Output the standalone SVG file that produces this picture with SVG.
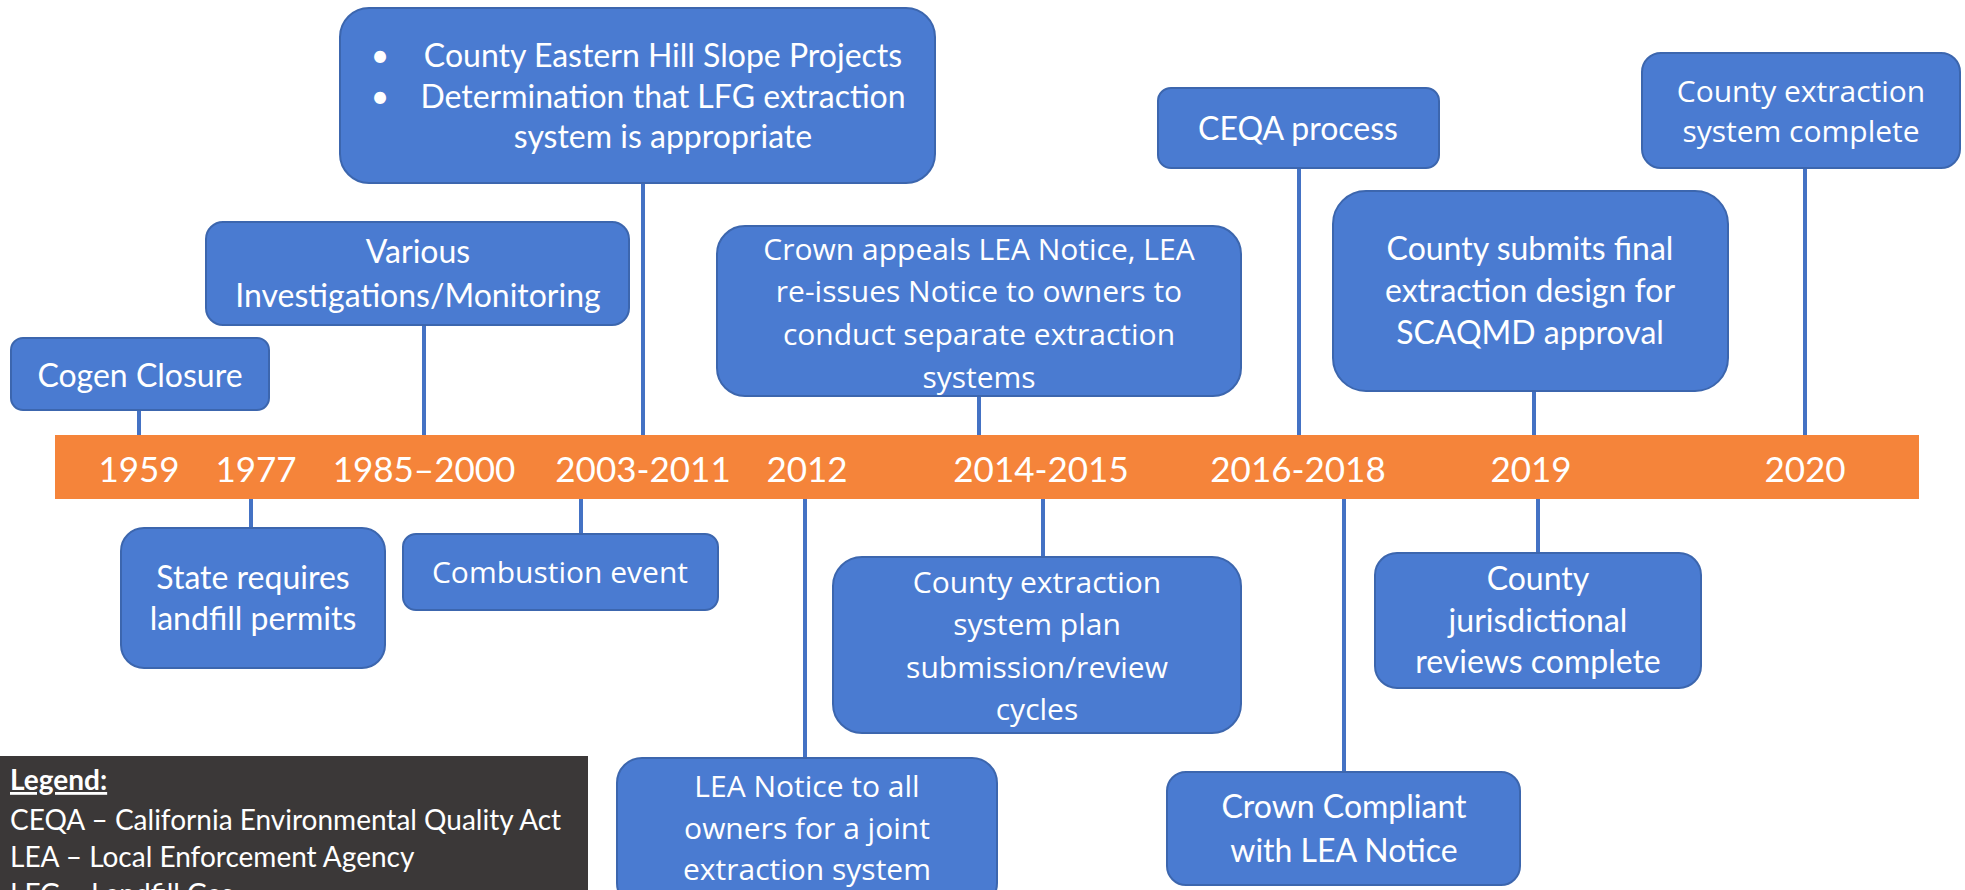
<svg xmlns="http://www.w3.org/2000/svg" width="1965" height="890" viewBox="0 0 1965 890">
<style>
.box{fill:#4A7BD1;stroke:#3C66AE;stroke-width:2}
.c{fill:#fff;font-family:Lato,"Liberation Sans",sans-serif;font-size:32px;text-anchor:middle}
.s{fill:#fff;font-family:"Open Sans","Noto Sans",sans-serif;font-size:30px;text-anchor:middle}
.yr{fill:#fff;font-family:Lato,"Liberation Sans",sans-serif;font-size:35px;text-anchor:middle}
.lg{fill:#fff;font-family:Lato,"Liberation Sans",sans-serif;font-size:28px}
.conn line{stroke:#4472C4;stroke-width:4}
</style>
<rect width="1965" height="890" fill="#fff"/>
<g class="conn" id="connectors">
<line x1="139" y1="410" x2="139" y2="437"/>
<line x1="424" y1="325" x2="424" y2="437"/>
<line x1="643" y1="183" x2="643" y2="437"/>
<line x1="979" y1="396" x2="979" y2="437"/>
<line x1="1299" y1="168" x2="1299" y2="437"/>
<line x1="1534" y1="391" x2="1534" y2="437"/>
<line x1="1805" y1="168" x2="1805" y2="437"/>
<line x1="251" y1="497" x2="251" y2="528"/>
<line x1="581" y1="497" x2="581" y2="534"/>
<line x1="805" y1="497" x2="805" y2="758"/>
<line x1="1043" y1="497" x2="1043" y2="557"/>
<line x1="1344" y1="497" x2="1344" y2="772"/>
<line x1="1538" y1="497" x2="1538" y2="553"/>
</g>
<g id="timeline">
<rect x="55" y="435" width="1864" height="64" fill="#F5843A"/>
<text class="yr" x="139" y="482">1959</text>
<text class="yr" x="256" y="482">1977</text>
<text class="yr" x="424" y="482">1985–2000</text>
<text class="yr" x="643" y="482">2003-2011</text>
<text class="yr" x="807" y="482">2012</text>
<text class="yr" x="1041" y="482">2014-2015</text>
<text class="yr" x="1298" y="482">2016-2018</text>
<text class="yr" x="1531" y="482">2019</text>
<text class="yr" x="1805" y="482">2020</text>
</g>
<g id="n-cogen">
<rect class="box" x="11" y="338" width="258" height="72" rx="12"/>
<text class="c" x="140" y="387">Cogen Closure</text>
</g>
<g id="n-various">
<rect class="box" x="206" y="222" width="423" height="103" rx="17"/>
<text class="c" x="418" y="263">Various</text>
<text class="c" x="418" y="307">Investigations/Monitoring</text>
</g>
<g id="n-eastern">
<rect class="box" x="340" y="8" width="595" height="175" rx="29"/>
<text class="c" x="380" y="67">•</text>
<text class="c" x="380" y="108">•</text>
<text class="c" x="663" y="67">County Eastern Hill Slope Projects</text>
<text class="c" x="663" y="108">Determination that LFG extraction</text>
<text class="c" x="663" y="148">system is appropriate</text>
</g>
<g id="n-crown-appeals">
<rect class="box" x="717" y="226" width="524" height="170" rx="28"/>
<text class="s" x="979" y="260">Crown appeals LEA Notice, LEA</text>
<text class="s" x="979" y="302">re-issues Notice to owners to</text>
<text class="s" x="979" y="345">conduct separate extraction</text>
<text class="s" x="979" y="388">systems</text>
</g>
<g id="n-ceqa">
<rect class="box" x="1158" y="88" width="281" height="80" rx="13"/>
<text class="c" x="1298" y="140">CEQA process</text>
</g>
<g id="n-submits">
<rect class="box" x="1333" y="191" width="395" height="200" rx="33"/>
<text class="c" x="1530" y="260">County submits final</text>
<text class="c" x="1530" y="302">extraction design for</text>
<text class="c" x="1530" y="344">SCAQMD approval</text>
</g>
<g id="n-complete">
<rect class="box" x="1642" y="53" width="318" height="115" rx="19"/>
<text class="s" x="1801" y="102">County extraction</text>
<text class="s" x="1801" y="142">system complete</text>
</g>
<g id="n-state">
<rect class="box" x="121" y="528" width="264" height="140" rx="23"/>
<text class="c" x="253" y="589">State requires</text>
<text class="c" x="253" y="630">landfill permits</text>
</g>
<g id="n-combustion">
<rect class="box" x="403" y="534" width="315" height="76" rx="13"/>
<text class="s" x="560" y="583">Combustion event</text>
</g>
<g id="n-lea-notice">
<rect class="box" x="617" y="758" width="380" height="150" rx="25"/>
<text class="s" x="807" y="797">LEA Notice to all</text>
<text class="s" x="807" y="839">owners for a joint</text>
<text class="s" x="807" y="880">extraction system</text>
</g>
<g id="n-plan">
<rect class="box" x="833" y="557" width="408" height="176" rx="29"/>
<text class="s" x="1037" y="593">County extraction</text>
<text class="s" x="1037" y="635">system plan</text>
<text class="s" x="1037" y="678">submission/review</text>
<text class="s" x="1037" y="720">cycles</text>
</g>
<g id="n-compliant">
<rect class="box" x="1167" y="772" width="353" height="113" rx="19"/>
<text class="c" x="1344" y="818">Crown Compliant</text>
<text class="c" x="1344" y="862">with LEA Notice</text>
</g>
<g id="n-jurisdictional">
<rect class="box" x="1375" y="553" width="326" height="135" rx="22"/>
<text class="c" x="1538" y="590">County</text>
<text class="c" x="1538" y="632">jurisdictional</text>
<text class="c" x="1538" y="673">reviews complete</text>
</g>
<g id="legend">
<rect x="0" y="756" width="588" height="140" fill="#3B3838"/>
<text class="lg" x="10" y="790" font-weight="bold" text-decoration="underline">Legend:</text>
<text class="lg" x="10" y="830">CEQA – California Environmental Quality Act</text>
<text class="lg" x="10" y="867">LEA – Local Enforcement Agency</text>
<text class="lg" x="10" y="904">LFG – Landfill Gas</text>
</g>
</svg>
